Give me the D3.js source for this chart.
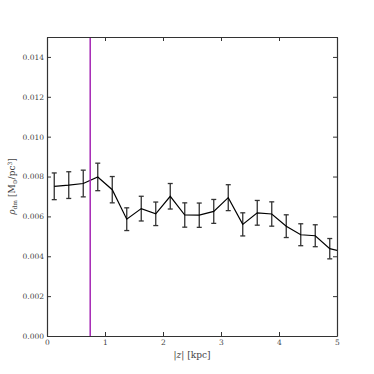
<!DOCTYPE html>
<html>
<head>
<meta charset="utf-8">
<script src="https://cdn.jsdelivr.net/npm/d3@7"></script>
<style>
  body { margin: 0; background: #fff; }
  svg { font-family: "DejaVu Serif", "Liberation Serif", serif; }
</style>
</head>
<body>
<svg id="chart" width="374" height="374"></svg>
<script>
// |z| bin centres (kpc), density and error
const zVals = [0.125, 0.375, 0.625, 0.875, 1.125, 1.375, 1.625, 1.875, 2.125, 2.375,
               2.625, 2.875, 3.125, 3.375, 3.625, 3.875, 4.125, 4.375, 4.625, 4.875, 5.125];
const rhoVals = [0.00751, 0.00757, 0.00765, 0.00798, 0.00734, 0.00586, 0.00639, 0.00613, 0.00701, 0.00607,
                 0.00606, 0.00625, 0.00694, 0.00560, 0.00618, 0.00612, 0.00551, 0.00508, 0.00503, 0.00438, 0.00420];
const errVals = [0.00067, 0.00067, 0.00067, 0.00069, 0.00066, 0.00057, 0.00062, 0.00059, 0.00064, 0.00061,
                 0.00061, 0.00060, 0.00065, 0.00058, 0.00062, 0.00061, 0.00057, 0.00055, 0.00055, 0.00051, 0.00050];
const vLine = 0.745;
const xTicks = [0, 1, 2, 3, 4, 5];
const yTicks = [0.000, 0.002, 0.004, 0.006, 0.008, 0.010, 0.012, 0.014];

const data = zVals.map((z, i) => ({ z, rho: rhoVals[i], err: errVals[i] }));

const svg = d3.select('#chart');
const margin = { top: 37, right: 37, bottom: 38, left: 47 };
const width = 374 - margin.left - margin.right;
const height = 374 - margin.top - margin.bottom;

const x = d3.scaleLinear().domain([0, 5]).range([0, width]);
const y = d3.scaleLinear().domain([0, 0.015]).range([height, 0]);

svg.append('defs').append('clipPath').attr('id', 'clip')
  .append('rect').attr('width', width).attr('height', height);

const g = svg.append('g').attr('transform', `translate(${margin.left},${margin.top})`);
const plot = g.append('g').attr('clip-path', 'url(#clip)');

// error bars
const eb = plot.selectAll('.eb').data(data).enter().append('g').attr('class', 'eb')
  .attr('stroke', '#333').attr('stroke-width', 1.3);
eb.append('line')
  .attr('x1', d => x(d.z)).attr('x2', d => x(d.z))
  .attr('y1', d => y(d.rho - d.err)).attr('y2', d => y(d.rho + d.err));
eb.append('line')
  .attr('x1', d => x(d.z) - 2.5).attr('x2', d => x(d.z) + 2.5)
  .attr('y1', d => y(d.rho + d.err)).attr('y2', d => y(d.rho + d.err));
eb.append('line')
  .attr('x1', d => x(d.z) - 2.5).attr('x2', d => x(d.z) + 2.5)
  .attr('y1', d => y(d.rho - d.err)).attr('y2', d => y(d.rho - d.err));

// profile line
plot.append('path').datum(data)
  .attr('fill', 'none').attr('stroke', '#000').attr('stroke-width', 1.2)
  .attr('d', d3.line().x(d => x(d.z)).y(d => y(d.rho)));

// vertical marker
plot.append('line')
  .attr('x1', x(vLine)).attr('x2', x(vLine))
  .attr('y1', 0).attr('y2', height)
  .attr('stroke', '#a526b4').attr('stroke-width', 1.5);

// axes: ticks inside on all sides
const fmt = d3.format('.3f');
const axB = g.append('g').attr('transform', `translate(0,${height})`)
  .call(d3.axisBottom(x).tickValues(xTicks).tickSizeInner(-4).tickSizeOuter(0)
    .tickFormat(d3.format('d')).tickPadding(4));
const axT = g.append('g')
  .call(d3.axisTop(x).tickValues(xTicks).tickSizeInner(-4).tickSizeOuter(0).tickFormat(''));
const axL = g.append('g')
  .call(d3.axisLeft(y).tickValues(yTicks).tickSizeInner(-4).tickSizeOuter(0).tickFormat(fmt).tickPadding(3));
const axR = g.append('g').attr('transform', `translate(${width},0)`)
  .call(d3.axisRight(y).tickValues(yTicks).tickSizeInner(-4).tickSizeOuter(0).tickFormat(''));

[axB, axT, axL, axR].forEach(a => {
  a.select('.domain').attr('stroke', '#333').attr('stroke-width', 1.2);
  a.selectAll('.tick line').attr('stroke', '#333');
  a.selectAll('.tick text').attr('font-family', '"DejaVu Serif", serif')
    .attr('font-size', 7.5).attr('fill', '#444');
});

// axis labels
const xl = g.append('text')
  .attr('x', width / 2).attr('y', height + 22)
  .attr('text-anchor', 'middle').attr('font-size', 9).attr('fill', '#444');
xl.append('tspan').text('|');
xl.append('tspan').attr('font-style', 'italic').text('z');
xl.append('tspan').text('| [kpc]');

const yl = g.append('text')
  .attr('transform', `translate(${-32},${height / 2}) rotate(-90)`)
  .attr('text-anchor', 'middle').attr('font-size', 9).attr('fill', '#444');
yl.append('tspan').attr('font-style', 'italic').text('ρ');
yl.append('tspan').attr('font-size', 6).attr('dy', 2).text('dm');
yl.append('tspan').attr('dy', -2).text(' [M');
yl.append('tspan').attr('font-size', 6).attr('dy', 2).text('⊙');
yl.append('tspan').attr('dy', -2).text('/pc');
yl.append('tspan').attr('font-size', 6).attr('dy', -3).text('3');
yl.append('tspan').attr('dy', 3).text(']');
</script>
</body>
</html>
